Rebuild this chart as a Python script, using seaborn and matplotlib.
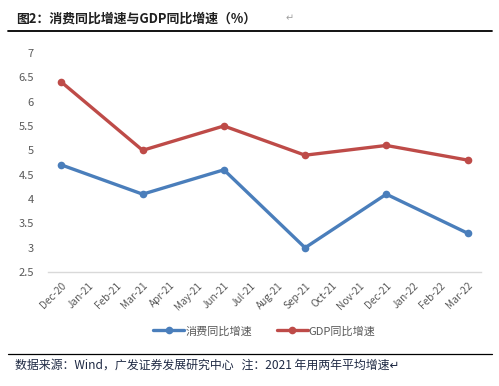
import matplotlib
matplotlib.use("Agg")
import matplotlib.pyplot as plt
from matplotlib.lines import Line2D
import pandas as pd
import seaborn as sns

# Month axis (categorical) and quarterly observations
months = ["Dec-20", "Jan-21", "Feb-21", "Mar-21", "Apr-21", "May-21", "Jun-21",
          "Jul-21", "Aug-21", "Sep-21", "Oct-21", "Nov-21", "Dec-21", "Jan-22",
          "Feb-22", "Mar-22"]
obs_months = ["Dec-20", "Mar-21", "Jun-21", "Sep-21", "Dec-21", "Mar-22"]
consumption = [4.7, 4.1, 4.6, 3.0, 4.1, 3.3]
gdp = [6.4, 5.0, 5.5, 4.9, 5.1, 4.8]

series_names = ["消费同比增速", "GDP同比增速"]
colors = ["#4A7EBB", "#BE4B48"]

sns.set_style("white")
plt.rcParams["font.family"] = ["Noto Sans CJK SC", "DejaVu Sans"]

# Build a long table with numeric x positions of the observed months
pos = [months.index(m) for m in obs_months]
df = pd.concat([
    pd.DataFrame({"x": pos, "value": consumption, "series": series_names[0]}),
    pd.DataFrame({"x": pos, "value": gdp, "series": series_names[1]}),
])

fig = plt.figure(figsize=(4.99, 3.86), dpi=100)
ax = fig.add_axes([0.096, 0.295, 0.868, 0.568])

sns.lineplot(data=df, x="x", y="value", hue="series", palette=colors,
             hue_order=series_names, marker="o", markersize=5.5,
             markeredgewidth=0, linewidth=2.4, ax=ax, legend=False)

ax.set_xlim(-0.5, len(months) - 0.5)
ax.set_ylim(2.5, 7)
ax.set_yticks([2.5, 3, 3.5, 4, 4.5, 5, 5.5, 6, 6.5, 7])
ax.set_yticklabels(["2.5", "3", "3.5", "4", "4.5", "5", "5.5", "6", "6.5", "7"])
ax.set_xticks(range(len(months)))
ax.set_xticklabels(months, rotation=45, ha="right", rotation_mode="anchor")
ax.set_xticks([i - 0.5 for i in range(len(months) + 1)], minor=True)
ax.tick_params(axis="x", which="major", length=0, labelsize=7.3, colors="#595959", pad=6)
ax.tick_params(axis="x", which="minor", length=4, color="#D9D9D9", width=0.8)
ax.tick_params(axis="y", length=0, labelsize=8, colors="#595959", pad=10)
ax.set_xlabel("")
ax.set_ylabel("")
for side in ["top", "right", "left"]:
    ax.spines[side].set_visible(False)
ax.spines["bottom"].set_color("#D9D9D9")
ax.spines["bottom"].set_linewidth(1)

handles = [Line2D([0], [0], color=c, lw=2.4, marker="o", markersize=5.5,
                  markeredgewidth=0) for c in colors]
fig.legend(handles, series_names, loc="center", bbox_to_anchor=(0.53, 0.142),
           ncol=2, frameon=False, fontsize=8, handlelength=2.8,
           handletextpad=0.1, columnspacing=2.2, labelcolor="#595959")

# Title, rules and source note
fig.text(0.033, 0.953, "图2：消费同比增速与GDP同比增速（%）", fontsize=9.3,
         fontweight="bold", color="#1F1F1F", va="center")
fig.text(0.572, 0.953, "↵", fontsize=7, color="#A0A0A0", va="center")
fig.add_artist(Line2D([0.016, 0.986], [0.92, 0.92], color="black", lw=1.3))
fig.add_artist(Line2D([0.016, 0.986], [0.083, 0.083], color="black", lw=0.9))
fig.text(0.03, 0.053, "数据来源：Wind，广发证券发展研究中心   注：2021 年用两年平均增速↵",
         fontsize=8.6, color="#1F2A44", va="center")

fig.savefig("out.png", dpi=100)
